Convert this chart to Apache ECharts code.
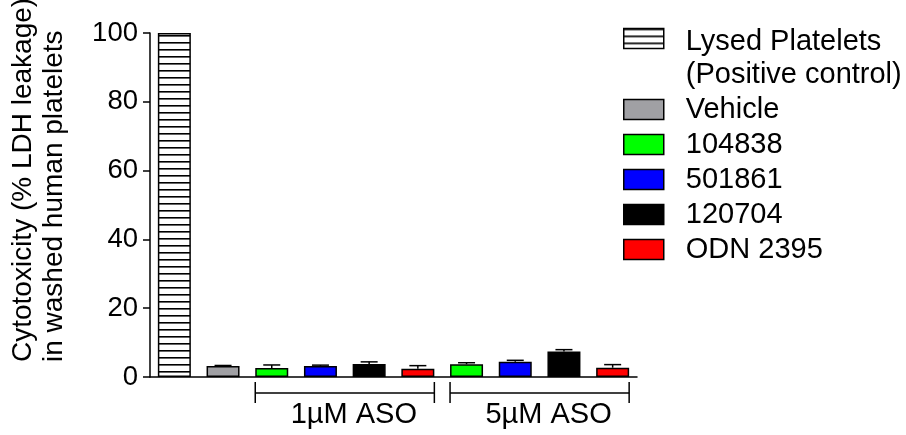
<!DOCTYPE html>
<html>
<head>
<meta charset="utf-8">
<script src="https://cdn.jsdelivr.net/npm/echarts@6/dist/echarts.min.js"></script>
<style>
html,body{margin:0;padding:0;background:#fff;}
#chart{width:906px;height:435px;}
</style>
</head>
<body>
<div id="chart"></div>
<script>
// ---- data ----
const categories = ['Lysed', 'Vehicle', '104838 1µM', '501861 1µM', '120704 1µM', 'ODN 2395 1µM',
                    '104838 5µM', '501861 5µM', '120704 5µM', 'ODN 2395 5µM'];
const seriesNames = ['Lysed Platelets', 'Vehicle', '104838', '501861', '120704', 'ODN 2395'];
const lysedSubtitle = '(Positive control)';
const lysedValue = 100;
const vehicleValue = 3.2;
const vehicleErr = 0.15;
const aso1uM = [2.6, 3.2, 3.8, 2.4];      // 104838, 501861, 120704, ODN 2395
const aso1uMErr = [0.9, 0.25, 0.6, 0.9];
const aso5uM = [3.7, 4.4, 7.4, 2.7];
const aso5uMErr = [0.45, 0.45, 0.55, 0.9];
const bracketLabels = ['1µM ASO', '5µM ASO'];
const bracketRanges = [[2, 5], [6, 9]];
const yTicks = [0, 20, 40, 60, 80, 100];

// ---- build ----
const FONT = 'Liberation Sans, Arial, sans-serif';
const colors = [null, '#a0a0a4', '#00ff00', '#0000ff', '#000000', '#ff0000'];

// horizontal stripe pattern for lysed platelets
const pc = document.createElement('canvas');
pc.width = 8; pc.height = 7;
const pctx = pc.getContext('2d');
pctx.fillStyle = '#fff'; pctx.fillRect(0, 0, 8, 7);
pctx.fillStyle = '#000'; pctx.fillRect(0, 0, 8, 1.6);
const stripe = { image: pc, repeat: 'repeat' };

function rowFor(seriesIdx) {
  const row = categories.map(() => '-');
  if (seriesIdx === 0) row[0] = lysedValue;
  else if (seriesIdx === 1) row[1] = vehicleValue;
  else {
    row[2 + seriesIdx - 2] = aso1uM[seriesIdx - 2];
    row[6 + seriesIdx - 2] = aso5uM[seriesIdx - 2];
  }
  return row;
}

const errData = [[1, vehicleValue, vehicleErr]];
aso1uM.forEach((v, i) => errData.push([2 + i, v, aso1uMErr[i]]));
aso5uM.forEach((v, i) => errData.push([6 + i, v, aso5uMErr[i]]));

const barSeries = seriesNames.map((name, i) => ({
  name: name,
  type: 'bar',
  stack: 'all',
  barWidth: 33,
  data: rowFor(i),
  itemStyle: { color: i === 0 ? stripe : colors[i], borderColor: '#000', borderWidth: 1.5 },
  emphasis: { disabled: true },
  z: 2
}));

const chart = echarts.init(document.getElementById('chart'), null, { renderer: 'canvas' });

const option = {
  animation: false,
  backgroundColor: '#fff',
  grid: { left: 150, top: 33, width: 487, height: 344, containLabel: false },
  xAxis: {
    type: 'category',
    data: categories,
    axisLine: { lineStyle: { color: '#000', width: 1.5 } },
    axisTick: { show: false },
    axisLabel: { show: false },
    splitLine: { show: false }
  },
  yAxis: {
    type: 'value',
    min: yTicks[0], max: yTicks[yTicks.length - 1], interval: 20,
    axisLine: { show: true, lineStyle: { color: '#000', width: 1.5 } },
    axisTick: { show: true, length: 7, lineStyle: { color: '#000', width: 1.5 } },
    axisLabel: { color: '#000', fontSize: 27.5, fontFamily: FONT, margin: 12 },
    splitLine: { show: false }
  },
  legend: {
    orient: 'vertical',
    left: 618,
    top: -19,
    itemWidth: 40,
    itemHeight: 20,
    itemGap: 2,
    selectedMode: false,
    icon: 'rect',
    itemStyle: { borderColor: '#000', borderWidth: 1.5 },
    textStyle: { color: '#000', fontSize: 29, fontFamily: FONT, lineHeight: 33, padding: [0, 0, 0, 17] },
    formatter: function (name) {
      if (name === seriesNames[0]) return '{s| }\n{a|' + name + '}\n{a|' + lysedSubtitle + '}';
      return name;
    },
    textStyle_rich_placeholder: null,
    data: seriesNames
  },
  graphic: [{
    type: 'text',
    x: 39, y: 362,
    rotation: Math.PI / 2,
    style: {
      text: 'Cytotoxicity (% LDH leakage)\nin washed human platelets',
      font: '28px ' + FONT,
      fill: '#000',
      textAlign: 'left',
      textVerticalAlign: 'middle',
      lineHeight: 31
    }
  }],
  series: barSeries.concat([
    {
      type: 'custom',
      name: 'err',
      data: errData,
      encode: { x: 0, y: 1 },
      z: 5,
      renderItem: function (params, api) {
        const base = api.coord([api.value(0), api.value(1)]);
        const top = api.coord([api.value(0), api.value(1) + api.value(2)]);
        const h = 8.5;
        const st = { stroke: '#000', lineWidth: 1.5 };
        return {
          type: 'group',
          children: [
            { type: 'line', shape: { x1: base[0], y1: base[1], x2: base[0], y2: top[1] }, style: st },
            { type: 'line', shape: { x1: base[0] - h, y1: top[1], x2: base[0] + h, y2: top[1] }, style: st }
          ]
        };
      }
    },
    {
      type: 'custom',
      name: 'brackets',
      data: bracketRanges.map(r => [r[0], 0, r[1]]),
      encode: { x: 0, y: 1 },
      clip: false,
      z: 5,
      renderItem: function (params, api) {
        const s = api.coord([api.value(0), 0]);
        const e = api.coord([api.value(2), 0]);
        const half = 16.5;
        const x1 = s[0] - half, x2 = e[0] + half;
        const y = s[1] + 16;
        const st = { stroke: '#000', lineWidth: 1.5 };
        return {
          type: 'group',
          children: [
            { type: 'line', shape: { x1: x1, y1: y, x2: x2, y2: y }, style: st },
            { type: 'line', shape: { x1: x1, y1: y - 11, x2: x1, y2: y + 10 }, style: st },
            { type: 'line', shape: { x1: x2, y1: y - 11, x2: x2, y2: y + 10 }, style: st },
            { type: 'text', x: (x1 + x2) / 2 + 9, y: y + 22,
              style: { text: bracketLabels[params.dataIndex], font: '29px ' + FONT, fill: '#000',
                       textAlign: 'center', textVerticalAlign: 'middle' } }
          ]
        };
      }
    }
  ])
};
delete option.legend.textStyle_rich_placeholder;
option.legend.textStyle.rich = {
  s: { fontSize: 29, fontFamily: FONT, lineHeight: 39 },
  a: { color: '#000', fontSize: 29, fontFamily: FONT, lineHeight: 33 }
};
chart.setOption(option);
</script>
</body>
</html>
